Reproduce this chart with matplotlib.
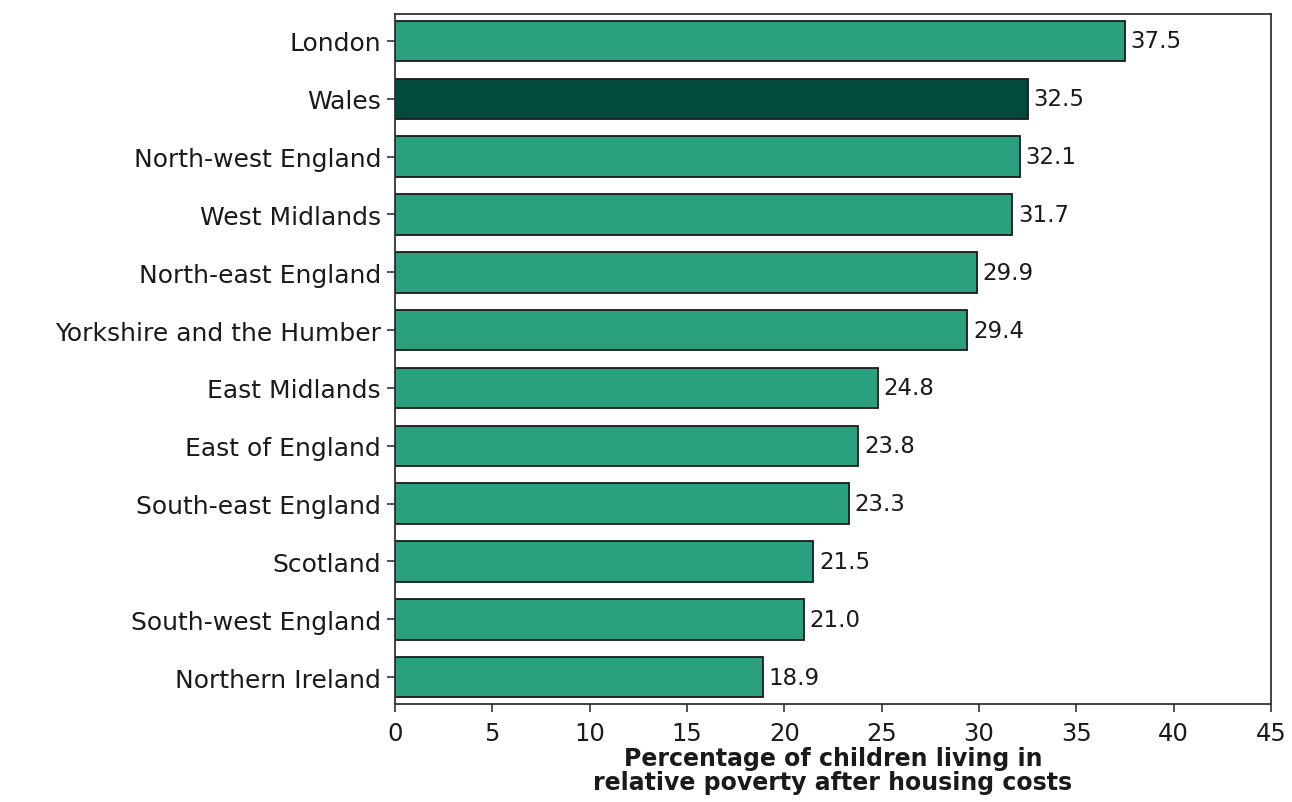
import matplotlib
matplotlib.use("Agg")
import matplotlib.pyplot as plt

regions = ["London", "Wales", "North-west England", "West Midlands", "North-east England",
           "Yorkshire and the Humber", "East Midlands", "East of England", "South-east England",
           "Scotland", "South-west England", "Northern Ireland"]
values = [37.5, 32.5, 32.1, 31.7, 29.9, 29.4, 24.8, 23.8, 23.3, 21.5, 21.0, 18.9]
highlight = "Wales"
xticks = [0, 5, 10, 15, 20, 25, 30, 35, 40, 45]

plt.rcParams['font.family'] = ['DejaVu Sans']

fig = plt.figure(figsize=(12.92, 8.03), dpi=100)
ax = fig.add_axes([0.3057, 0.1220, 0.6780, 0.8593])

green = "#2ba07e"
dark = "#024b3c"
colors = [dark if r == highlight else green for r in regions]
ypos = list(range(len(regions)))
ax.barh(ypos, values, height=0.7, color=colors, edgecolor="#1a1a1a", linewidth=1.3)
for y, v in zip(ypos, values):
    ax.text(v + 0.3, y, f"{v:.1f}", va="center", ha="left", fontsize=16.5, color="#1a1a1a")

ax.set_yticks(ypos)
ax.set_yticklabels(regions, fontsize=18, color="#1a1a1a")
ax.set_ylim(len(regions) - 0.535, -0.465)
ax.set_xlim(0, 45)
ax.set_xticks(xticks)
ax.set_xticklabels([str(t) for t in xticks], fontsize=17.5, color="#1a1a1a")
ax.tick_params(axis="both", length=6, width=1.2, color="#333333")
ax.tick_params(axis="x", pad=6)
ax.tick_params(axis="y", pad=4)
for s in ax.spines.values():
    s.set_color("#333333")
    s.set_linewidth(1.3)
ax.set_xlabel("Percentage of children living in\nrelative poverty after housing costs",
              fontsize=17, fontweight="bold", color="#1a1a1a", labelpad=1, linespacing=1.0)

fig.savefig("out.png", dpi=100, facecolor="white")
